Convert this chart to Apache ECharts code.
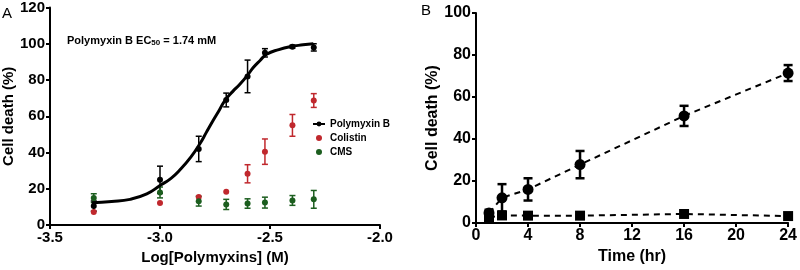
<!DOCTYPE html>
<html>
<head>
<meta charset="utf-8">
<script src="https://cdn.jsdelivr.net/npm/echarts@6/dist/echarts.min.js"></script>
<style>
  html, body { margin: 0; padding: 0; background: #fff; }
  #chart { width: 800px; height: 270px; }
</style>
</head>
<body>
<div id="chart"></div>
<script>
// Panel A: dose response (log M)
var logConc = [-3.301, -3.0, -2.824, -2.699, -2.602, -2.523, -2.398, -2.301];
var pmbMean = [10.5, 25, 42, 69, 82, 95, 98.4, 98];
var pmbErr = [2.8, 7.5, 7, 3.8, 9, 2.3, 0.8, 2];
var colistinMean = [7.2, 12.2, 15.5, 18.4, 28.3, 40.5, 55, 68.7];
var colistinErr = [0, 0, 0, 0, 5, 7, 6, 3.8];
var cmsMean = [14.9, 18, 13.2, 11.4, 11.9, 12.4, 13.6, 14.2];
var cmsErr = [2.4, 3, 2.7, 2.8, 2.6, 3, 2.7, 4.9];
// fitted curve
var curveX = [-3.31, -3.22, -3.136, -3.06, -3.0, -2.95, -2.909, -2.86, -2.818, -2.79, -2.758, -2.73, -2.705, -2.67, -2.636, -2.6, -2.576, -2.545, -2.515, -2.46, -2.409, -2.35, -2.303];
var curveY = [12.3, 13.0, 14.2, 17.2, 21.8, 25.8, 30.5, 37.5, 45, 51, 57.8, 63.5, 68.7, 73.6, 77.8, 83, 86.9, 90.8, 94.2, 96.8, 98.4, 99.4, 100];
var xTicksA = [-3.5, -2.0, 0.5];
var yTicksA = [0, 120, 20];

// Panel B: time course
var timeHr = [1, 2, 4, 8, 16, 24];
var treatedMean = [4.8, 12, 16, 27.8, 51, 71.4];
var treatedErr = [1.5, 6.5, 5.3, 6.5, 4.8, 3.8];
var controlMean = [2.7, 3.6, 3.5, 3.5, 4.3, 3.3];
var xTicksB = [0, 24, 4];
var yTicksB = [0, 100, 20];

var RED = '#c0282d';
var GREEN = '#1c5e1f';
var FONT = 'Liberation Sans, Arial, sans-serif';

var dom = document.getElementById('chart');
var myChart = echarts.init(dom);

function pairs(xs, ys) {
  return xs.map(function (x, i) { return [x, ys[i]]; });
}
function errData(xs, mean, err) {
  var out = [];
  xs.forEach(function (x, i) {
    if (err[i] > 0) out.push([x, mean[i] - err[i], mean[i] + err[i]]);
  });
  return out;
}
function errSeries(xs, mean, err, color, axis, cap, width) {
  return {
    type: 'custom',
    xAxisIndex: axis,
    yAxisIndex: axis,
    silent: true,
    z: 1,
    data: errData(xs, mean, err),
    renderItem: function (params, api) {
      var lo = api.coord([api.value(0), api.value(1)]);
      var hi = api.coord([api.value(0), api.value(2)]);
      var st = { stroke: color, lineWidth: width };
      return {
        type: 'group',
        children: [
          { type: 'line', shape: { x1: lo[0], y1: lo[1], x2: hi[0], y2: hi[1] }, style: st },
          { type: 'line', shape: { x1: lo[0] - cap, y1: lo[1], x2: lo[0] + cap, y2: lo[1] }, style: st },
          { type: 'line', shape: { x1: hi[0] - cap, y1: hi[1], x2: hi[0] + cap, y2: hi[1] }, style: st }
        ]
      };
    }
  };
}

function axisCommon(fontSize) {
  return {
    axisLine: { show: true, onZero: false, lineStyle: { color: '#000', width: 2 } },
    axisTick: { show: true, length: 4, lineStyle: { color: '#000', width: 2 } },
    axisLabel: { color: '#000', fontWeight: 'bold', fontSize: fontSize, fontFamily: FONT, margin: 5 },
    splitLine: { show: false },
    nameTextStyle: { color: '#000', fontWeight: 'bold', fontSize: fontSize, fontFamily: FONT },
    nameLocation: 'middle'
  };
}

var xA = Object.assign(axisCommon(15), {
  type: 'value', gridIndex: 0, min: xTicksA[0], max: xTicksA[1], interval: xTicksA[2],
  name: 'Log[Polymyxins] (M)', nameGap: 24
});
xA.axisLabel.formatter = function (v) { return v.toFixed(1); };
var yA = Object.assign(axisCommon(15), {
  type: 'value', gridIndex: 0, min: yTicksA[0], max: yTicksA[1], interval: yTicksA[2],
  name: 'Cell death (%)', nameGap: 32
});
var xB = Object.assign(axisCommon(16), {
  type: 'value', gridIndex: 1, min: xTicksB[0], max: xTicksB[1], interval: xTicksB[2],
  name: 'Time (hr)', nameGap: 20
});
var yB = Object.assign(axisCommon(16), {
  type: 'value', gridIndex: 1, min: yTicksB[0], max: yTicksB[1], interval: yTicksB[2],
  name: 'Cell death (%)', nameGap: 34
});

var option = {
  animation: false,
  backgroundColor: '#fff',
  grid: [
    { left: 50, top: 6, width: 330, height: 220 },
    { left: 476, top: 13, width: 316, height: 210 }
  ],
  xAxis: [xA, xB],
  yAxis: [yA, yB],
  legend: {
    orient: 'vertical',
    left: 307,
    top: 114,
    itemGap: 4,
    itemWidth: 12,
    itemHeight: 6,
    data: ['Polymyxin B', 'Colistin', 'CMS'],
    textStyle: { color: '#000', fontWeight: 'bold', fontSize: 10, fontFamily: FONT }
  },
  graphic: [
    { type: 'text', left: 2, top: 6, style: { text: 'A', fontSize: 15, fontFamily: FONT, fill: '#000' } },
    { type: 'text', left: 421, top: 3, style: { text: 'B', fontSize: 15, fontFamily: FONT, fill: '#000' } },
    {
      type: 'text', left: 67, top: 35,
      style: {
        text: 'Polymyxin B EC{sub|50} = 1.74 mM',
        fontSize: 11, fontWeight: 'bold', fontFamily: FONT, fill: '#000',
        rich: { sub: { fontSize: 8, fontWeight: 'bold', fontFamily: FONT, verticalAlign: 'bottom', padding: [4, 0, 0, 0] } }
      }
    }
  ],
  series: [
    errSeries(logConc, pmbMean, pmbErr, '#000', 0, 3, 1.5),
    errSeries(logConc, colistinMean, colistinErr, RED, 0, 3, 1.5),
    errSeries(logConc, cmsMean, cmsErr, GREEN, 0, 3, 1.5),
    {
      name: 'Polymyxin B',
      type: 'line',
      xAxisIndex: 0, yAxisIndex: 0,
      data: pairs(curveX, curveY),
      smooth: true,
      symbol: 'circle',
      symbolSize: 6,
      showSymbol: false,
      itemStyle: { color: '#000' },
      lineStyle: { color: '#000', width: 3 },
      z: 3
    },
    {
      name: 'pmbPoints',
      type: 'scatter',
      xAxisIndex: 0, yAxisIndex: 0,
      data: pairs(logConc, pmbMean),
      symbolSize: 6,
      itemStyle: { color: '#000', opacity: 1 },
      z: 4
    },
    {
      name: 'Colistin',
      type: 'scatter',
      xAxisIndex: 0, yAxisIndex: 0,
      data: pairs(logConc, colistinMean),
      symbolSize: 6,
      itemStyle: { color: RED, opacity: 1 },
      z: 4
    },
    {
      name: 'CMS',
      type: 'scatter',
      xAxisIndex: 0, yAxisIndex: 0,
      data: pairs(logConc, cmsMean),
      symbolSize: 6,
      itemStyle: { color: GREEN, opacity: 1 },
      z: 4
    },
    errSeries(timeHr, treatedMean, treatedErr, '#000', 1, 4.5, 2.5),
    {
      name: 'control',
      type: 'line',
      xAxisIndex: 1, yAxisIndex: 1,
      data: pairs(timeHr, controlMean),
      symbol: 'rect',
      symbolSize: 10,
      itemStyle: { color: '#000' },
      lineStyle: { color: '#000', width: 2, type: [6, 5] },
      z: 3
    },
    {
      name: 'treated',
      type: 'line',
      xAxisIndex: 1, yAxisIndex: 1,
      data: pairs(timeHr, treatedMean),
      symbol: 'circle',
      symbolSize: 11,
      itemStyle: { color: '#000' },
      lineStyle: { color: '#000', width: 2, type: [6, 5] },
      z: 4
    }
  ]
};

if (option && typeof option === 'object') {
  myChart.setOption(option);
}
</script>
</body>
</html>
